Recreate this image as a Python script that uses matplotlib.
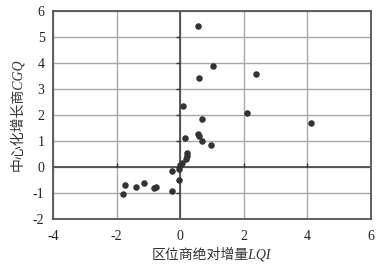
import matplotlib.pyplot as plt

plt.rcParams['font.family'] = ['Liberation Serif', 'Noto Sans CJK SC']
plt.rcParams['axes.unicode_minus'] = False

# ---------- DATA ----------
lqi = [0.55, 1.03, 0.60, 2.39, 4.13, 2.09, 0.08, 0.69,
       0.16, 0.55, 0.61, 0.70, 0.97, 0.22, 0.22, 0.20,
       0.07, 0.01, -0.03, -0.27, -0.04, -0.24,
       -1.74, -1.79, -1.38, -1.13, -0.83, -0.76]
cgq = [5.42, 3.87, 3.43, 3.56, 1.69, 2.08, 2.36, 1.83,
       1.13, 1.27, 1.19, 1.00, 0.85, 0.55, 0.42, 0.30,
       0.17, 0.09, -0.08, -0.17, -0.51, -0.92,
       -0.69, -1.04, -0.76, -0.63, -0.82, -0.76]

xticks = [-4, -2, 0, 2, 4, 6]
yticks = [-2, -1, 0, 1, 2, 3, 4, 5, 6]

# ---------- PLOT ----------
fig = plt.figure(figsize=(3.92, 2.69), dpi=100)
ax = fig.add_axes([0.135, 0.186, 0.811, 0.773])

ax.set_xlim(-4, 6)
ax.set_ylim(-2, 6)
ax.set_xticks(xticks)
ax.set_yticks(yticks)
ax.grid(True, color='#a8a8a8', linewidth=1.0)
ax.set_axisbelow(True)
ax.tick_params(length=0, labelsize=10, colors='#222222')
ax.tick_params(axis='y', pad=6)
ax.tick_params(axis='x', pad=8)
for sp in ax.spines.values():
    sp.set_color('#555555')
    sp.set_linewidth(1.3)

# zero lines with little tick marks
ax.axhline(0, color='#444444', linewidth=1.2, zorder=1.5)
ax.axvline(0, color='#444444', linewidth=1.2, zorder=1.5)
ax.plot(xticks[1:-1], [0] * len(xticks[1:-1]), linestyle='none',
        marker=2, markersize=3, color='#333333', zorder=1.6)
ax.plot([0] * len(yticks[1:-1]), yticks[1:-1], linestyle='none',
        marker=0, markersize=3, color='#333333', zorder=1.6)

ax.scatter(lqi, cgq, s=22, color='#333333', zorder=3, linewidths=0)

# italic applies only to the Latin part; the CJK fallback has no italic face
ax.set_xlabel('区位商绝对增量LQI', fontsize=10, color='#333333', labelpad=3,
              style='italic')
ax.set_ylabel('中心化增长商CGQ', fontsize=10, color='#333333', labelpad=6,
              style='italic')

fig.savefig('out.png', dpi=100)
